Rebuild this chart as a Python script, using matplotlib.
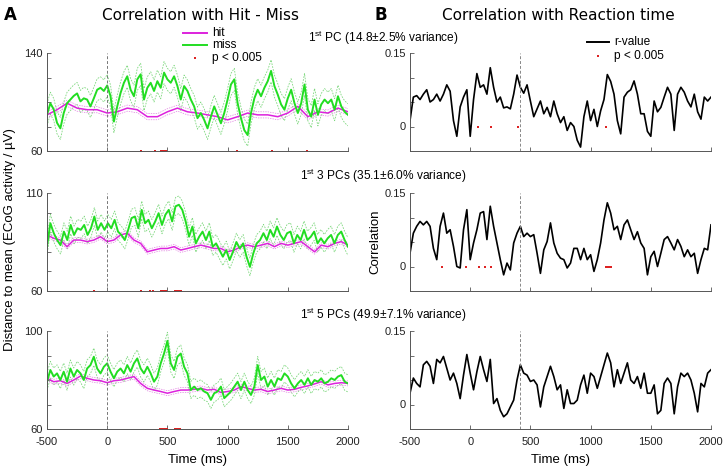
import numpy as np
import matplotlib
matplotlib.use("Agg")
import matplotlib.pyplot as plt
from matplotlib.lines import Line2D

plt.rcParams['font.family'] = ['Liberation Sans', 'DejaVu Sans']
plt.rcParams['mathtext.fontset'] = 'custom'
plt.rcParams['mathtext.rm'] = 'Liberation Sans'

# ---------------- data ----------------
miss_pc1 = [89.5, 99, 94, 83, 78.5, 91, 99, 102, 105, 107, 100.5, 103, 102, 96.4, 103, 110, 111.6, 109,
            113.5, 104.7, 84, 96.4, 107.4, 115.7, 121, 110, 104.7, 118.5, 122.6, 102, 111.6, 115.7, 109,
            117, 111.6, 124, 118.5, 115.7, 121, 113, 102, 113, 109, 102, 96.4, 86.8, 91, 85.4, 78.5, 88,
            96.4, 89.5, 82.6, 91, 102, 114.3, 118.5, 99, 86.8, 77, 73, 91, 103, 110, 104.7, 111.6, 117,
            125.4, 113, 106, 98, 93.7, 103, 110, 99, 91, 99, 114.3, 93.7, 88, 102, 89.5, 98, 102, 99, 102,
            93.7, 104.7, 96.4, 92, 89.5]
hit_pc1 = [89.5, 93.7, 99, 95, 93.7, 93.7, 91, 92, 95, 93.7, 88, 88, 92, 95, 92, 91, 89.5, 88, 85.4, 88,
           91, 89.5, 89.5, 88, 91, 96.4, 88, 92, 91, 95, 92]
miss_pc3 = [82.6, 94.6, 89.5, 86, 83.4, 90.3, 86, 93.7, 88.6, 92, 91.2, 93.7, 88.6, 92, 98, 91.2, 94.6,
            91.2, 94.6, 92, 96.3, 90.3, 88.6, 86, 91.2, 97.2, 98, 92, 101.4, 94.6, 96.3, 92, 95.5, 99.7,
            93.7, 98.9, 101.4, 95.5, 103.2, 104, 101.4, 95.5, 87.7, 92.9, 84.3, 87.7, 90.3, 86, 90.3, 82.6,
            84.3, 80.9, 77.5, 80.9, 75.8, 80, 85, 81.7, 84.3, 77.5, 72.3, 79.2, 84.3, 86, 89.5, 86, 91.2,
            87.7, 92.9, 88.6, 86, 89.5, 90.3, 84.3, 88.6, 86, 91.2, 86, 87.7, 90.3, 84.3, 86.9, 84.3, 86.9,
            88.6, 84.3, 88.6, 90.3, 86, 82.6]
hit_pc3 = [88.6, 86.9, 86, 82.6, 86, 86, 85.2, 86, 87.7, 85.2, 86, 88.6, 89.5, 86, 84.3, 80, 80.9, 81.7,
           81.7, 82.6, 80.9, 81.7, 82.6, 83.4, 82.6, 81.7, 81.7, 80, 80.9, 82.6, 83.4, 82.6, 83.4, 84.3,
           82.6, 84.3, 83.4, 84.3, 85.2, 82.6, 80, 83.4, 82.6, 84.3, 85.2, 83.4]
miss_pc5 = [79.3, 84.1, 81.4, 82.7, 80, 83.4, 79.3, 84.7, 81.4, 84.1, 82.7, 80, 84.7, 86.1, 89.5, 84.7,
            82.7, 85.4, 86.8, 83.4, 80.7, 83.4, 84.7, 82.7, 86.1, 83.4, 86.8, 88.8, 84.7, 82.7, 85.4, 82.7,
            79.3, 81.4, 86.8, 90.8, 96, 86.8, 84.1, 89.5, 90.8, 85.4, 82.7, 75.9, 77.3, 75.9, 76.6, 75.3,
            74.6, 71.9, 74.6, 75.3, 77.3, 72.6, 73.9, 75.3, 77.3, 79.3, 75.9, 79.3, 75.9, 73.9, 77.3, 86.1,
            80, 81.4, 77.3, 80, 77.3, 80.7, 80, 82.7, 81.4, 78.6, 76.6, 78.6, 80, 78, 80.7, 78, 80, 79.3,
            80.7, 78.6, 79.3, 80.7, 80, 81.4, 82, 79.3, 78.6]
hit_pc5 = [80.7, 79.3, 79.7, 78.6, 80, 81.6, 80.7, 80, 79.7, 78.9, 79.7, 80, 80.7, 81.4, 78.6, 76.6, 75.9,
           75.3, 74.6, 75.3, 75.9, 75.9, 76.2, 76.6, 75.9, 76.2, 74.9, 75.3, 75.9, 77.3, 76.6, 75.9, 76.2,
           75.3, 75.9, 76.6, 75.9, 76.2, 77, 77.6, 78.4, 79.3, 78, 78.6, 78.9, 78.6]
miss_se = [9.0, 4.5, 3.5]
hit_se = [2.5, 1.2, 1.0]

r_pc1 = [0.012, 0.060, 0.063, 0.055, 0.066, 0.075, 0.050, 0.055, 0.066, 0.052, 0.066, 0.085, 0.072, 0.012,
         -0.020, 0.040, 0.060, 0.075, -0.020, 0.055, 0.108, 0.080, 0.085, 0.066, 0.120, 0.080, 0.050, 0.060,
         0.038, 0.040, 0.036, 0.066, 0.105, 0.080, 0.068, 0.085, 0.052, 0.020, 0.036, 0.052, 0.026, 0.039,
         0.020, 0.052, 0.026, 0.008, 0.020, -0.008, 0.008, 0.000, -0.028, -0.042, 0.020, 0.052, 0.012,
         0.035, 0.000, 0.032, 0.055, 0.106, 0.092, 0.066, 0.012, -0.015, 0.060, 0.070, 0.075, 0.093, 0.066,
         0.026, 0.026, -0.010, -0.020, 0.052, 0.030, 0.039, 0.060, 0.080, 0.066, -0.008, 0.066, 0.080,
         0.070, 0.052, 0.040, 0.066, 0.030, 0.015, 0.060, 0.052, 0.060]
r_pc3 = [0.027, 0.068, 0.082, 0.092, 0.085, 0.092, 0.082, 0.037, 0.014, 0.082, 0.109, 0.068, 0.075, 0.041,
         0.000, -0.003, 0.075, 0.116, 0.014, 0.048, 0.075, 0.109, 0.112, 0.055, 0.123, 0.082, 0.048, 0.014,
         -0.017, 0.007, -0.007, 0.048, 0.068, 0.082, 0.061, 0.068, 0.061, 0.065, 0.027, -0.014, 0.034,
         0.051, 0.089, 0.048, 0.027, 0.017, 0.014, -0.003, 0.007, 0.037, 0.037, 0.014, 0.037, 0.014, 0.024,
         -0.010, 0.014, 0.048, 0.095, 0.130, 0.109, 0.075, 0.082, 0.055, 0.085, 0.095, 0.075, 0.055, 0.071,
         0.048, 0.037, -0.017, 0.020, 0.031, 0.000, 0.027, 0.055, 0.061, 0.048, 0.034, 0.055, 0.041, 0.020,
         0.034, 0.020, 0.027, -0.014, 0.014, 0.037, 0.034, 0.085]
r_pc5 = [0.023, 0.054, 0.043, 0.036, 0.081, 0.088, 0.078, 0.043, 0.092, 0.085, 0.098, 0.074, 0.050, 0.064,
         0.043, 0.012, 0.060, 0.102, 0.064, 0.030, 0.067, 0.098, 0.071, 0.047, 0.092, 0.002, 0.012, -0.012,
         -0.025, -0.019, -0.005, 0.009, 0.050, 0.081, 0.064, 0.060, 0.047, 0.050, 0.040, -0.005, 0.036,
         0.057, 0.078, 0.057, 0.030, 0.040, -0.008, 0.030, 0.002, 0.002, 0.009, 0.040, 0.060, 0.023, 0.064,
         0.057, 0.033, 0.057, 0.081, 0.105, 0.085, 0.036, 0.071, 0.043, 0.064, 0.085, 0.050, 0.043, 0.057,
         0.033, 0.064, 0.023, 0.023, 0.040, -0.019, -0.012, 0.043, 0.054, 0.043, -0.019, 0.036, 0.064,
         0.057, 0.064, 0.050, 0.023, -0.015, 0.043, 0.036, 0.064, 0.071]

sig_left = [[282, 394, 450, 464, 478, 492, 1078, 1372, 1659],
            [-109, 282, 352, 380, 450, 465, 480, 490, 561, 575, 590, 605, 617],
            [441, 455, 470, 485, 497, 566, 580, 594, 608]]
sig_right = [[63, 174, 396, 1131],
             [-236, -33, 69, 125, 175, 1125, 1135, 1145, 1155, 1167],
             []]

subtitles = ['1$^{\\rm st}$ PC (14.8±2.5% variance)',
             '1$^{\\rm st}$ 3 PCs (35.1±6.0% variance)',
             '1$^{\\rm st}$ 5 PCs (49.9±7.1% variance)']
left_ylims = [(60, 140), (60, 110), (60, 100)]
left_ystep = [20, 10, 10]
rt_mean = 410
xticks = [-500, 0, 500, 1000, 1500, 2000]
left_legend = ['hit', 'miss', 'p < 0.005']
right_legend = ['r-value', 'p < 0.005']

misses = [miss_pc1, miss_pc3, miss_pc5]
hits = [hit_pc1, hit_pc3, hit_pc5]
rvals = [r_pc1, r_pc3, r_pc5]

# ---------------- figure ----------------
W, H = 727, 474
fig = plt.figure(figsize=(W / 100, H / 100), dpi=100)

GREEN = '#22dd22'
MAG = '#dd22dd'
GREEN_B = '#7ed87e'
MAG_B = '#e080e0'
RED = '#dd2222'
SPINE = '#555555'

def fx(x):
    return x / W

def fy(y):
    return 1 - y / H

def px(x0, y0, x1, y1):
    return [x0 / W, 1 - y1 / H, (x1 - x0) / W, (y1 - y0) / H]

rows = [(53, 151), (193, 291), (331, 429)]

def style(ax, bottom_labels):
    for s in ['top', 'right']:
        ax.spines[s].set_visible(False)
    for s in ['left', 'bottom']:
        ax.spines[s].set_color(SPINE)
        ax.spines[s].set_linewidth(0.7)
    ax.tick_params(direction='in', length=3, width=0.6, color=SPINE, labelsize=8,
                   labelcolor='#222222')
    ax.tick_params(axis='x', pad=6)
    ax.tick_params(axis='y', pad=3)
    ax.set_xlim(-500, 2000)
    ax.set_xticks(xticks)
    if bottom_labels:
        ax.set_xticklabels([str(v) for v in xticks])
    else:
        ax.set_xticklabels([])

for i, (y0, y1) in enumerate(rows):
    # ---- left: hit vs miss ----
    ax = fig.add_axes(px(47, y0, 348, y1))
    m = np.array(misses[i]); h = np.array(hits[i])
    tm = np.linspace(-500, 2000, len(m)); th = np.linspace(-500, 2000, len(h))
    ax.plot(tm, m + miss_se[i], ls='--', color=GREEN_B, lw=0.6, dashes=(2, 1.5))
    ax.plot(tm, m - miss_se[i], ls='--', color=GREEN_B, lw=0.6, dashes=(2, 1.5))
    ax.plot(th, h + hit_se[i], ls='--', color=MAG_B, lw=0.5, dashes=(2, 1.5))
    ax.plot(th, h - hit_se[i], ls='--', color=MAG_B, lw=0.5, dashes=(2, 1.5))
    ax.plot(th, h, color=MAG, lw=1.1)
    ax.plot(tm, m, color=GREEN, lw=1.4)
    lo, hi = left_ylims[i]
    ax.set_ylim(lo, hi)
    ax.axvline(0, color='#777777', ls='--', lw=0.7, dashes=(3, 2))
    ax.plot(sig_left[i], [lo] * len(sig_left[i]), 's', color=RED, ms=1.6, mew=0, clip_on=False)
    yt = list(range(lo, hi + 1, left_ystep[i]))
    ax.set_yticks(yt)
    ax.set_yticklabels([str(v) if v in (lo, hi) else '' for v in yt])
    style(ax, i == 2)
    if i == 2:
        ax.set_xlabel('Time (ms)', fontsize=9.5, labelpad=5)

    # ---- right: correlation ----
    axr = fig.add_axes(px(410, y0, 711, y1))
    r = np.array(rvals[i]); tr = np.linspace(-500, 2000, len(r))
    axr.plot(tr, r, color='black', lw=1.2)
    axr.set_ylim(-0.05, 0.15)
    axr.axvline(rt_mean, color='#888888', ls='--', lw=0.7, dashes=(3, 2))
    axr.plot(sig_right[i], [0] * len(sig_right[i]), 's', color=RED, ms=1.6, mew=0)
    axr.set_yticks([0, 0.05, 0.1, 0.15])
    axr.set_yticklabels(['0', '', '', '0.15'])
    style(axr, i == 2)
    if i == 2:
        axr.set_xlabel('Time (ms)', fontsize=9.5, labelpad=5)
    if i == 1:
        axr.set_ylabel('Correlation', fontsize=9.5, labelpad=2)

    # subtitle
    fig.text(fx(383), fy([38, 176, 315][i]), subtitles[i], ha='center', va='center', fontsize=8.6)

# y label left
fig.text(fx(10), fy(240), 'Distance to mean (ECoG activity / µV)', rotation=90,
         ha='center', va='center', fontsize=9.5)

# panel labels and titles
fig.text(fx(10), fy(15), 'A', ha='center', va='center', fontsize=12, fontweight='bold',
         family='DejaVu Sans')
fig.text(fx(381), fy(15), 'B', ha='center', va='center', fontsize=12, fontweight='bold',
         family='DejaVu Sans')
fig.text(fx(200), fy(15), 'Correlation with Hit - Miss', ha='center', va='center',
         fontsize=11, family='DejaVu Sans')
fig.text(fx(558), fy(15), 'Correlation with Reaction time', ha='center', va='center',
         fontsize=11, family='DejaVu Sans')

# legends (drawn as keys in figure coordinates)
def key_line(x0, x1, y, color):
    fig.add_artist(Line2D([fx(x0), fx(x1)], [fy(y), fy(y)], color=color, lw=1.4,
                          transform=fig.transFigure))

def key_dot(x, y):
    fig.add_artist(Line2D([fx(x)], [fy(y)], ls='none', marker='s', color=RED, ms=1.8, mew=0,
                          transform=fig.transFigure))

key_line(183, 207, 33, MAG)
key_line(183, 207, 45, GREEN)
key_dot(195, 58)
for lab, yy in zip(left_legend, [33, 45, 58]):
    fig.text(fx(212), fy(yy), lab, ha='left', va='center', fontsize=8.6)

key_line(587, 609, 42, 'black')
key_dot(598, 56)
for lab, yy in zip(right_legend, [42, 56]):
    fig.text(fx(614), fy(yy), lab, ha='left', va='center', fontsize=8.6)

fig.savefig('out.png', dpi=100)
